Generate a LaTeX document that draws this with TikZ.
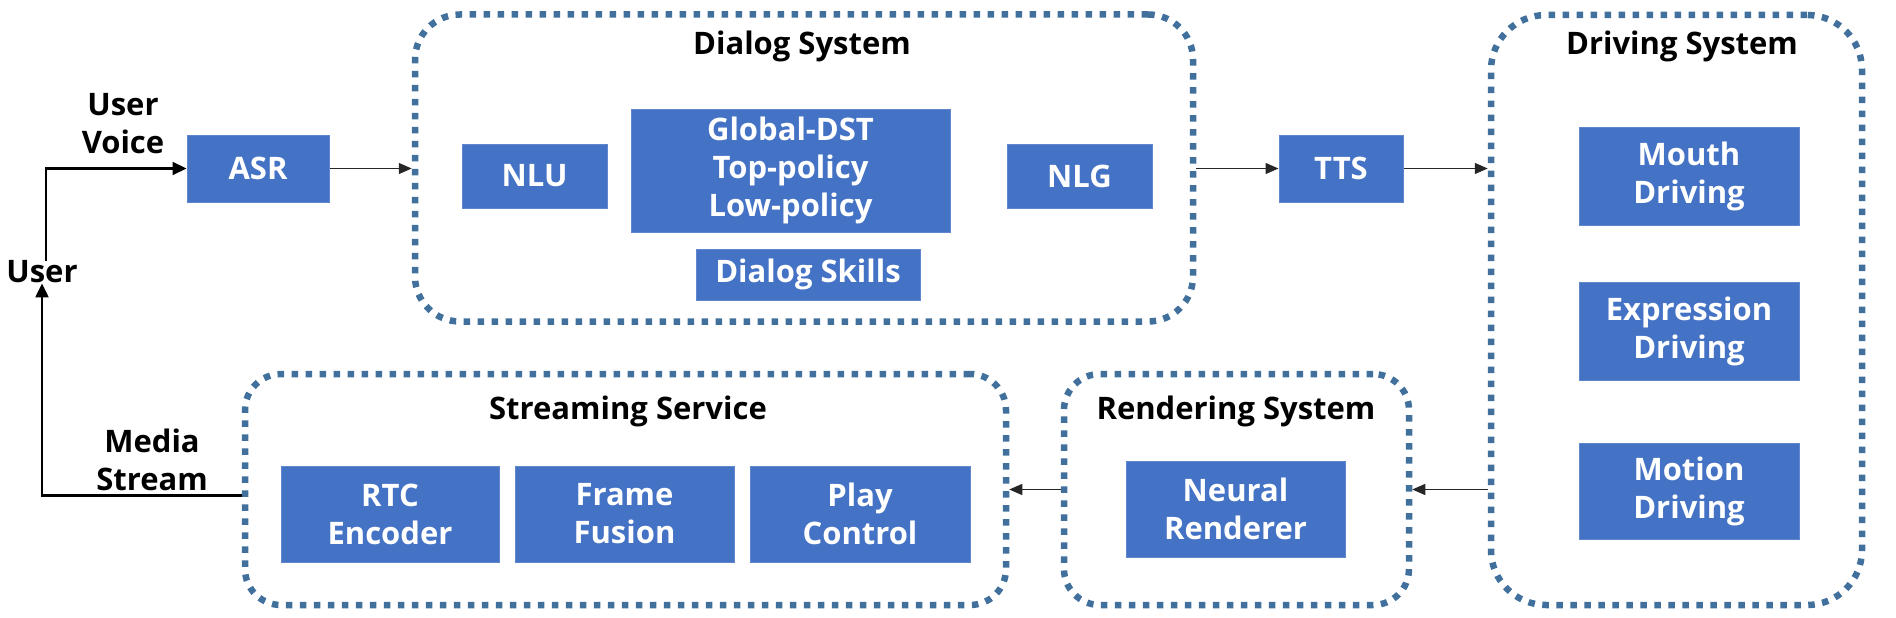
\documentclass[tikz,border=0pt]{standalone}
\usepackage{fontspec}
\setmainfont{Open Sans}
\usetikzlibrary{arrows.meta,calc}
\definecolor{boxblue}{HTML}{4472C4}
\definecolor{dotblue}{HTML}{41709C}
\begin{document}
\begin{tikzpicture}[x=1pt,y=-1pt,
  blk/.style={fill=boxblue, draw=boxblue!85!white, line width=1pt, text=white,
    font=\bfseries\fontsize{31}{38}\selectfont, align=center, inner sep=0pt},
  grp/.style={draw=dotblue, line width=6.5pt, dash pattern=on 6.5pt off 7.5pt,
    rounded corners=40pt, inner sep=0pt},
  ttl/.style={font=\bfseries\fontsize{31}{38}\selectfont, text=black, align=center, inner sep=0pt},
  conn/.style={draw=black!85, line width=1.3pt, -{Triangle[length=13pt,width=11pt]}},
  uconn/.style={draw=black, line width=2.2pt, -{Triangle[length=14pt,width=13pt]}}
]
\useasboundingbox (0,0) rectangle (1896,618);
% containers
\node[grp, rounded corners=45pt, minimum width=778pt, minimum height=307pt] (dlg) at (804,168) {};
\node[grp, rounded corners=55pt, minimum width=371pt, minimum height=590pt] (drv) at (1676.5,310) {};
\node[grp, rounded corners=36pt, minimum width=761pt, minimum height=231pt] (str) at (625.5,489.5) {};
\node[grp, rounded corners=36pt, minimum width=345pt, minimum height=231pt] (rnd) at (1236.5,489.5) {};
% titles
\node[ttl] (tdlg) at (802,46) {Dialog System};
\node[ttl] (tdrv) at (1682,46) {Driving System};
\node[ttl] (tstr) at (628,411) {Streaming Service};
\node[ttl] (trnd) at (1236,411) {Rendering System};
% blocks
\node[blk, minimum width=142pt, minimum height=67pt] (asr) at (258,168.5) {ASR};
\node[blk, minimum width=145pt, minimum height=64pt] (nlu) at (534.5,176) {NLU};
\node[blk, minimum width=319pt, minimum height=123pt] (gdst) at (790.5,170.5) {Global-DST\\Top-policy\\Low-policy};
\node[blk, minimum width=145pt, minimum height=64pt] (nlg) at (1079.5,176) {NLG};
\node[blk, minimum width=224pt, minimum height=51pt] (skl) at (808,274.5) {Dialog Skills};
\node[blk, minimum width=124pt, minimum height=67pt] (tts) at (1341,168.5) {TTS};
\node[blk, minimum width=220pt, minimum height=98pt] (mouth) at (1689,176) {Mouth\\Driving};
\node[blk, minimum width=220pt, minimum height=98pt] (expr) at (1689,331) {Expression\\Driving};
\node[blk, minimum width=220pt, minimum height=96pt] (motion) at (1689,491) {Motion\\Driving};
\node[blk, minimum width=218pt, minimum height=96pt] (rtc) at (390,514) {RTC\\Encoder};
\node[blk, minimum width=219pt, minimum height=96pt] (frame) at (624.5,514) {Frame\\Fusion};
\node[blk, minimum width=220pt, minimum height=96pt] (play) at (860,514) {Play\\Control};
\node[blk, minimum width=219pt, minimum height=96pt] (neural) at (1235.5,509) {Neural\\Renderer};
% labels
\node[ttl] (user) at (42,272) {User};
\node[ttl] (uvoice) at (123,124) {User\\Voice};
\node[ttl] (mstream) at (152,460) {Media\\Stream};
% connectors
\draw[uconn] ([xshift=4pt]user.north) |- (asr.west);
\draw[uconn] ([yshift=-6pt]str.west) -| (user.south);
\draw[conn] (asr.east) -- (asr.east -| dlg.west);
\draw[conn] (dlg.east |- tts.west) -- (tts.west);
\draw[conn] (tts.east) -- (tts.east -| drv.west);
\draw[conn] (drv.west |- rnd.east) -- (rnd.east);
\draw[conn] (rnd.west) -- (rnd.west -| str.east);
\end{tikzpicture}
\end{document}
